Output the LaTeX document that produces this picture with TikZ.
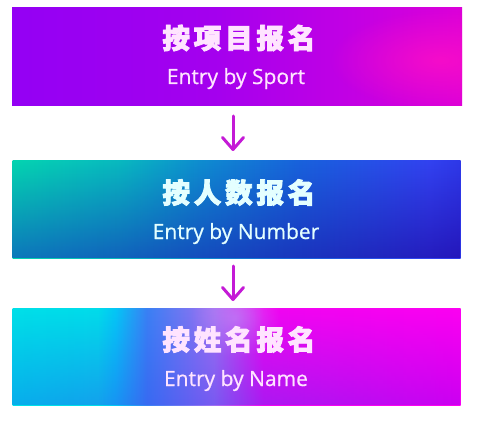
\documentclass[tikz,border=0pt]{standalone}
\usepackage{fontspec}
\setmainfont{Open Sans}[FakeBold=0.6]
\newfontfamily\cjk{Noto Sans CJK SC}[LetterSpace=14, FakeBold=3]
\usetikzlibrary{arrows.meta,fadings}
\definecolor{aA}{HTML}{9400F4}
\definecolor{aB}{HTML}{A400EE}
\definecolor{aC}{HTML}{C200E4}
\definecolor{aD}{HTML}{DC00D8}
\definecolor{aSpot}{HTML}{FF10C4}
\definecolor{bA}{HTML}{04D4B0}
\definecolor{bB}{HTML}{08B8C0}
\definecolor{bC}{HTML}{0E8CD0}
\definecolor{bD}{HTML}{1862DC}
\definecolor{bE}{HTML}{3242F0}
\definecolor{bF}{HTML}{2E38E8}
\definecolor{bLow}{HTML}{1050C0}
\definecolor{bLowR}{HTML}{2008A8}
\definecolor{cA}{HTML}{00E0E8}
\definecolor{cB}{HTML}{04C6F6}
\definecolor{cC}{HTML}{3A80F4}
\definecolor{cD}{HTML}{A070F2}
\definecolor{cE}{HTML}{F004F2}
\definecolor{cF}{HTML}{FC00F2}
\definecolor{cLowL}{HTML}{1070F0}
\definecolor{cLowR}{HTML}{9000F0}
\definecolor{cSpot}{HTML}{C890F8}
\definecolor{arrowc}{HTML}{C41AD6}
\definecolor{txtpink}{HTML}{FFE4FF}
\definecolor{txtcyan}{HTML}{E4FFFF}
% the path spans 25bp..75bp of a 100bp shading
\pgfdeclarehorizontalshading{shA}{100bp}{color(0bp)=(aA); color(25bp)=(aA); color(47.5bp)=(aB); color(62.5bp)=(aC); color(75bp)=(aD); color(100bp)=(aD)}
\pgfdeclarehorizontalshading{shB}{100bp}{color(0bp)=(bA); color(25bp)=(bA); color(37bp)=(bB); color(46bp)=(bC); color(57bp)=(bD); color(71.5bp)=(bE); color(75bp)=(bF); color(100bp)=(bF)}
\pgfdeclarehorizontalshading{shC}{100bp}{color(0bp)=(cA); color(25bp)=(cA); color(34.5bp)=(cA!85!cB); color(36.5bp)=(cB); color(40bp)=(cC); color(47.5bp)=(cD); color(53bp)=(cE); color(75bp)=(cF); color(100bp)=(cF)}
\tikzfading[name=fadedown, top color=transparent!100, bottom color=transparent!0]
\tikzfading[name=softspot, inner color=transparent!0, outer color=transparent!100]
\tikzset{
  boxnode/.style={inner sep=0pt, outer sep=0pt, minimum width=448pt, minimum height=97pt},
  titletext/.style={inner sep=0pt, font=\cjk\bfseries\fontsize{27.5}{32}\selectfont},
  subtext/.style={inner sep=0pt, anchor=base, font=\fontsize{21}{25}\selectfont},
  arr/.style={draw=arrowc, line width=3pt, line cap=round, -{Straight Barb[length=12pt, width=21pt, line width=3pt, round]}}
}
\begin{document}
\begin{tikzpicture}[x=1pt, y=-1pt]
\useasboundingbox (0,0) rectangle (479,422);
% box 1
\node[boxnode, minimum width=450pt, minimum height=98pt, shading=shA] (b1) at (237,57) {};
\begin{scope}
  \clip (b1.north west) rectangle (b1.south east);
  \fill[aSpot, path fading=softspot, fill opacity=0.75] (440,60) ellipse (110pt and 50pt);
\end{scope}
% box 2
\node[boxnode, shading=shB] (b2) at (236.5,209.5) {};
\shade[left color=bLow, right color=bLowR, path fading=fadedown, fill opacity=0.7] (b2.north west) rectangle (b2.south east);
% box 3
\node[boxnode, shading=shC] (b3) at (236.5,356.5) {};
\begin{scope}
  \clip (b3.north west) rectangle (b3.south east);
  \fill[cSpot, path fading=softspot, fill opacity=0.6] (235,318) ellipse (45pt and 40pt);
\end{scope}
\shade[left color=cLowL, right color=cLowR, path fading=fadedown, fill opacity=0.45] (b3.north west) rectangle (b3.south east);
% texts
\node[titletext, text=txtpink] (t1) at (237,38) {按项目报名\kern-0.14em};
\node[subtext, text=txtpink] (s1) at (236,84) {Entry by Sport};
\node[titletext, text=txtcyan] (t2) at (237,192.5) {按人数报名\kern-0.14em};
\node[subtext, text=txtcyan] (s2) at (236,239) {Entry by Number};
\node[titletext, text=txtpink] (t3) at (237,339.5) {按姓名报名\kern-0.14em};
\node[subtext, text=txtpink] (s3) at (236,386) {Entry by Name};
% arrows
\draw[arr] ([xshift=-4pt, yshift=-10pt]b1.south) -- ([xshift=-3.5pt, yshift=10pt]b2.north);
\draw[arr] ([xshift=-3.5pt, yshift=-8pt]b2.south) -- ([xshift=-3.5pt, yshift=7pt]b3.north);
\end{tikzpicture}
\end{document}
